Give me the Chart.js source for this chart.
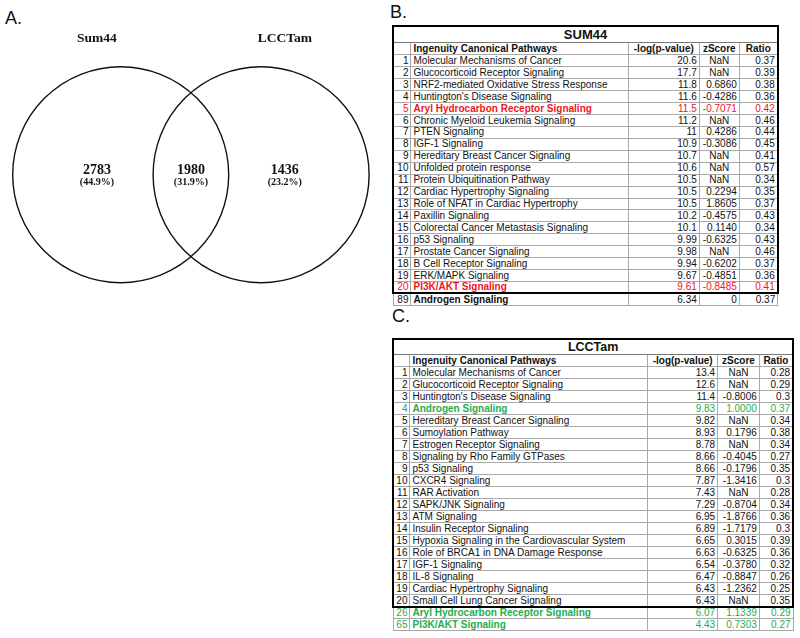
<!DOCTYPE html>
<html>
<head>
<meta charset="utf-8">
<script src="https://cdn.jsdelivr.net/npm/chart.js@4.4.1/dist/chart.umd.min.js"></script>
<style>
  html, body { margin:0; padding:0; background:#fff; }
  body { width:800px; height:638px; position:relative; overflow:hidden; }
  .panel { position:absolute; font-family:"Liberation Sans", Arial, sans-serif; font-size:18px; line-height:18px; color:#111; }
  #venn { position:absolute; left:0; top:0; }
  table.tbl { position:absolute; border-collapse:collapse; table-layout:fixed;
    font-family:"Liberation Sans", Arial, sans-serif; font-size:10px; color:#111; }
  table.tbl td { border:1px solid #a9a9a9; padding:0 2px; white-space:nowrap; overflow:hidden;
    line-height:10px; vertical-align:middle; box-sizing:border-box; }
  table.tbl td.rk { text-align:right; padding-right:2px; }
  table.tbl td.nm { text-align:left; }
  table.tbl td.num { text-align:right; }
  table.tbl td.nan { text-align:center; }
  table.tbl tr.hd td { font-weight:bold; }
  table.tbl tr.hd td.c { text-align:center; }
  table.tbl td.title { font-weight:bold; text-align:center; border-bottom:1px solid #777; }
  table.tbl tr.bold td.nm { font-weight:bold; }
</style>
</head>
<body>
<div class="panel" style="left:5px;top:9px;">A.</div>
<div class="panel" style="left:390px;top:3px;">B.</div>
<div class="panel" style="left:392px;top:307px;">C.</div>
<canvas id="venn" width="390" height="330"></canvas>

<script>
// ---------- Venn data ----------
const vennSets = ['Sum44', 'LCCTam'];
const vennCounts = [2783, 1980, 1436];          // Sum44 only, overlap, LCCTam only
const vennPercents = ['(44.9%)', '(31.9%)', '(23.2%)'];

// ---------- Table B: SUM44 ----------
const sumTitle = 'SUM44';
const tableHeaders = ['Ingenuity Canonical Pathways', '-log(p-value)', 'zScore', 'Ratio'];
const sumRanks = [1,2,3,4,5,6,7,8,9,10,11,12,13,14,15,16,17,18,19,20,89];
const sumPathways = [
  'Molecular Mechanisms of Cancer',
  'Glucocorticoid Receptor Signaling',
  'NRF2-mediated Oxidative Stress Response',
  "Huntington's Disease Signaling",
  'Aryl Hydrocarbon Receptor Signaling',
  'Chronic Myeloid Leukemia Signaling',
  'PTEN Signaling',
  'IGF-1 Signaling',
  'Hereditary Breast Cancer Signaling',
  'Unfolded protein response',
  'Protein Ubiquitination Pathway',
  'Cardiac Hypertrophy Signaling',
  'Role of NFAT in Cardiac Hypertrophy',
  'Paxillin Signaling',
  'Colorectal Cancer Metastasis Signaling',
  'p53 Signaling',
  'Prostate Cancer Signaling',
  'B Cell Receptor Signaling',
  'ERK/MAPK Signaling',
  'PI3K/AKT Signaling',
  'Androgen Signaling'
];
const sumLogP = ['20.6','17.7','11.8','11.6','11.5','11.2','11','10.9','10.7','10.6','10.5','10.5','10.5','10.2','10.1','9.99','9.98','9.94','9.67','9.61','6.34'];
const sumZ = ['NaN','NaN','0.6860','-0.4286','-0.7071','NaN','0.4286','-0.3086','NaN','NaN','NaN','0.2294','1.8605','-0.4575','0.1140','-0.6325','NaN','-0.6202','-0.4851','-0.8485','0'];
const sumRatio = ['0.37','0.39','0.38','0.36','0.42','0.46','0.44','0.45','0.41','0.57','0.34','0.35','0.37','0.43','0.34','0.43','0.46','0.37','0.36','0.41','0.37'];
const sumHighlight = [5, 20];   // red
const sumBoldOnly = [89];

// ---------- Table C: LCCTam ----------
const lccTitle = 'LCCTam';
const lccRanks = [1,2,3,4,5,6,7,8,9,10,11,12,13,14,15,16,17,18,19,20,26,65];
const lccPathways = [
  'Molecular Mechanisms of Cancer',
  'Glucocorticoid Receptor Signaling',
  "Huntington's Disease Signaling",
  'Androgen Signaling',
  'Hereditary Breast Cancer Signaling',
  'Sumoylation Pathway',
  'Estrogen Receptor Signaling',
  'Signaling by Rho Family GTPases',
  'p53 Signaling',
  'CXCR4 Signaling',
  'RAR Activation',
  'SAPK/JNK Signaling',
  'ATM Signaling',
  'Insulin Receptor Signaling',
  'Hypoxia Signaling in the Cardiovascular System',
  'Role of BRCA1 in DNA Damage Response',
  'IGF-1 Signaling',
  'IL-8 Signaling',
  'Cardiac Hypertrophy Signaling',
  'Small Cell Lung Cancer Signaling',
  'Aryl Hydrocarbon Receptor Signaling',
  'PI3K/AKT Signaling'
];
const lccLogP = ['13.4','12.6','11.4','9.83','9.82','8.93','8.78','8.66','8.66','7.87','7.43','7.29','6.95','6.89','6.65','6.63','6.54','6.47','6.43','6.43','6.07','4.43'];
const lccZ = ['NaN','NaN','-0.8006','1.0000','NaN','0.1796','NaN','-0.4045','-0.1796','-1.3416','NaN','-0.8704','-1.8766','-1.7179','0.3015','-0.6325','-0.3780','-0.8847','-1.2362','NaN','1.1339','0.7303'];
const lccRatio = ['0.28','0.29','0.3','0.37','0.34','0.38','0.34','0.27','0.35','0.3','0.28','0.34','0.36','0.3','0.39','0.36','0.32','0.26','0.25','0.35','0.29','0.27'];
const lccHighlight = [4, 26, 65];  // green

// ---------- Venn chart (Chart.js) ----------
const R = 1;            // circle radius (units)
const GAP = 1.30;       // distance between centres (units)
const vennCtx = document.getElementById('venn').getContext('2d');

const vennLabels = {
  id: 'vennLabels',
  afterDatasetsDraw(chart) {
    const { ctx, scales: { x, y } } = chart;
    const off = 0.22;
    const regionX = [-off, GAP / 2, GAP + off];
    const titleX = [-off, GAP + off];
    ctx.save();
    ctx.fillStyle = '#111';
    ctx.textAlign = 'center';
    ctx.textBaseline = 'middle';
    ctx.font = 'bold 13.5px "Liberation Serif", "Times New Roman", serif';
    vennSets.forEach((s, i) => ctx.fillText(s, x.getPixelForValue(titleX[i]), y.getPixelForValue(1.263)));
    ctx.font = 'bold 14px "Liberation Serif", "Times New Roman", serif';
    vennCounts.forEach((c, i) => ctx.fillText(String(c), x.getPixelForValue(regionX[i]), y.getPixelForValue(0.044)));
    ctx.font = 'bold 10px "Liberation Serif", "Times New Roman", serif';
    vennPercents.forEach((p, i) => ctx.fillText(p, x.getPixelForValue(regionX[i]), y.getPixelForValue(-0.074)));
    ctx.restore();
  }
};

new Chart(vennCtx, {
  type: 'scatter',
  data: {
    datasets: [{
      data: vennSets.map((s, i) => ({ x: i * GAP, y: 0 })),
      pointRadius: (c) => {
        const sx = c.chart.scales.x;
        return sx ? sx.getPixelForValue(R) - sx.getPixelForValue(0) : 0;
      },
      pointHoverRadius: (c) => {
        const sx = c.chart.scales.x;
        return sx ? sx.getPixelForValue(R) - sx.getPixelForValue(0) : 0;
      },
      backgroundColor: 'rgba(0,0,0,0)',
      borderColor: '#111',
      borderWidth: 1.4,
      pointHoverBorderWidth: 1.4
    }]
  },
  options: {
    responsive: false,
    animation: false,
    events: [],
    layout: { padding: 0 },
    plugins: { legend: { display: false }, tooltip: { enabled: false } },
    scales: {
      x: { type: 'linear', min: -1.1176, max: 2.4935, display: false },
      y: { type: 'linear', min: -1.438, max: 1.6176, display: false }
    }
  },
  plugins: [vennLabels]
});

// ---------- Tables ----------
function buildTable(opt) {
  const t = document.createElement('table');
  t.className = 'tbl';
  t.style.left = opt.left + 'px';
  t.style.top = opt.top + 'px';
  const total = opt.cols.reduce((a, b) => a + b, 0);
  t.style.width = total + 'px';
  const cg = document.createElement('colgroup');
  opt.cols.forEach(w => { const c = document.createElement('col'); c.style.width = w + 'px'; cg.appendChild(c); });
  t.appendChild(cg);
  const thick = '2px solid #000';
  // title row
  let tr = document.createElement('tr');
  tr.style.height = opt.titleH + 'px';
  let td = document.createElement('td');
  td.colSpan = 5; td.className = 'title'; td.textContent = opt.title;
  td.style.fontSize = opt.titleFont + 'px';
  td.style.borderTop = thick; td.style.borderLeft = thick; td.style.borderRight = thick;
  tr.appendChild(td); t.appendChild(tr);
  // header row
  tr = document.createElement('tr'); tr.className = 'hd';
  tr.style.height = opt.headH + 'px';
  ['', ...tableHeaders].forEach((h, i) => {
    const d = document.createElement('td');
    d.textContent = h;
    if (i >= 2) d.className = 'c';
    if (i === 0) d.style.borderLeft = thick;
    if (i === 4) d.style.borderRight = thick;
    tr.appendChild(d);
  });
  t.appendChild(tr);
  // data rows
  opt.ranks.forEach((rk, r) => {
    const inMain = r < 20;
    tr = document.createElement('tr');
    tr.style.height = opt.rowH + 'px';
    const hl = opt.highlight.includes(rk);
    if (hl || opt.boldOnly.includes(rk)) tr.className = 'bold';
    const vals = [String(rk), opt.names[r], opt.logp[r], opt.z[r], opt.ratio[r]];
    vals.forEach((v, i) => {
      const d = document.createElement('td');
      d.textContent = v;
      d.className = i === 0 ? 'rk' : i === 1 ? 'nm' : (v === 'NaN' ? 'nan' : 'num');
      if (hl) d.style.color = opt.hlColor;
      if (inMain) {
        if (i === 0) d.style.borderLeft = thick;
        if (i === 4) d.style.borderRight = thick;
        if (r === 19) d.style.borderBottom = thick;
      }
      tr.appendChild(d);
    });
    t.appendChild(tr);
  });
  document.body.appendChild(t);
}

buildTable({
  left: 392.3, top: 25, cols: [17.7, 217.3, 71, 40, 38.4],
  title: sumTitle, titleFont: 13, titleH: 16.7, headH: 12.3, rowH: 11.93,
  ranks: sumRanks, names: sumPathways, logp: sumLogP, z: sumZ, ratio: sumRatio,
  highlight: sumHighlight, boldOnly: sumBoldOnly, hlColor: '#f0141e'
});

buildTable({
  left: 392.3, top: 338.3, cols: [16.7, 237.7, 70, 41.6, 33.7],
  title: lccTitle, titleFont: 12.5, titleH: 15, headH: 12.7, rowH: 12,
  ranks: lccRanks, names: lccPathways, logp: lccLogP, z: lccZ, ratio: lccRatio,
  highlight: lccHighlight, boldOnly: [], hlColor: '#1fad4f'
});
</script>
</body>
</html>
